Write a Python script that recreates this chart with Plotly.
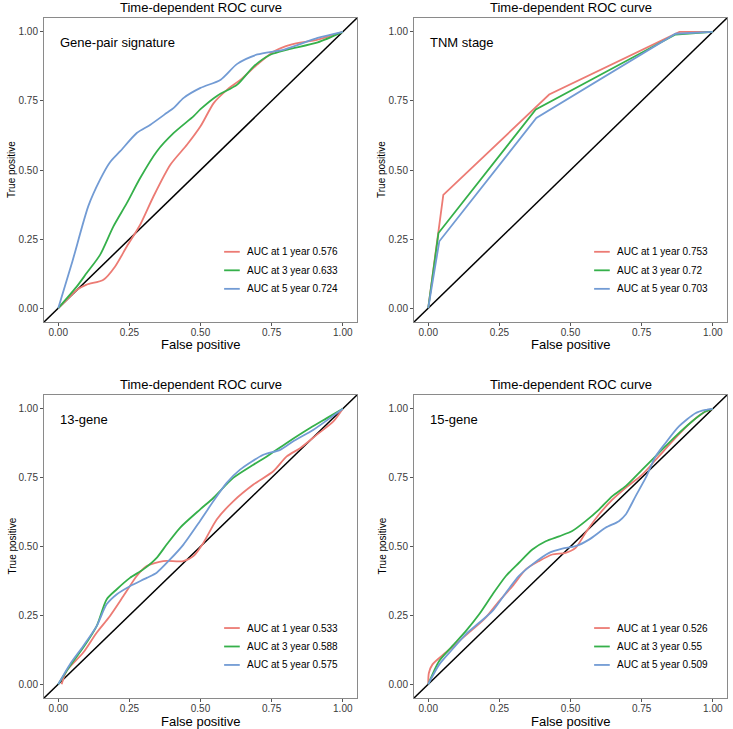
import plotly.graph_objects as go

# ---------------- data ----------------
tick_vals = [0, 0.25, 0.5, 0.75, 1.0]
tick_text = ["0.00", "0.25", "0.50", "0.75", "1.00"]
panel_titles = ["Time-dependent ROC curve"] * 4
panel_labels = ["Gene-pair signature", "TNM stage", "13-gene", "15-gene"]
series_names = ["1 year", "3 year", "5 year"]

auc_gp = [0.576, 0.633, 0.724]
auc_tnm = [0.753, 0.72, 0.703]
auc_13 = [0.533, 0.588, 0.575]
auc_15 = [0.526, 0.55, 0.509]

# Gene-pair signature
gp1_x = [0, 0.03, 0.065, 0.1, 0.159, 0.2, 0.241, 0.288, 0.335, 0.394, 0.453, 0.5, 0.547, 0.594, 0.641, 0.7, 0.759, 0.818, 0.912, 1.0]
gp1_y = [0, 0.03, 0.066, 0.085, 0.103, 0.151, 0.223, 0.302, 0.405, 0.519, 0.592, 0.658, 0.743, 0.791, 0.827, 0.882, 0.93, 0.954, 0.972, 1.0]
gp3_x = [0, 0.065, 0.1, 0.147, 0.194, 0.241, 0.288, 0.347, 0.406, 0.476, 0.5, 0.559, 0.629, 0.688, 0.747, 0.806, 0.912, 1.0]
gp3_y = [0, 0.078, 0.127, 0.193, 0.296, 0.38, 0.471, 0.568, 0.634, 0.695, 0.72, 0.769, 0.809, 0.876, 0.918, 0.936, 0.962, 1.0]
gp5_x = [0, 0.05, 0.106, 0.147, 0.182, 0.218, 0.276, 0.324, 0.382, 0.406, 0.441, 0.5, 0.571, 0.629, 0.7, 0.794, 0.912, 1.0]
gp5_y = [0, 0.17, 0.37, 0.465, 0.528, 0.568, 0.634, 0.664, 0.707, 0.725, 0.761, 0.797, 0.827, 0.884, 0.918, 0.936, 0.978, 1.0]

# TNM stage
tnm1_x = [0, 0.053, 0.425, 0.883, 1.0]
tnm1_y = [0, 0.41, 0.773, 1.0, 1.0]
tnm3_x = [0, 0.036, 0.378, 0.869, 1.0]
tnm3_y = [0, 0.272, 0.719, 0.99, 1.0]
tnm5_x = [0, 0.039, 0.38, 0.869, 1.0]
tnm5_y = [0, 0.242, 0.688, 0.993, 1.0]

# 13-gene
g13_1_x = [0.012, 0.029, 0.088, 0.135, 0.182, 0.229, 0.276, 0.311, 0.369, 0.44, 0.475, 0.51, 0.557, 0.615, 0.686, 0.756, 0.803, 0.85, 0.909, 0.967, 1.0]
g13_1_y = [0, 0.048, 0.115, 0.187, 0.248, 0.32, 0.393, 0.429, 0.447, 0.447, 0.465, 0.513, 0.598, 0.664, 0.725, 0.773, 0.827, 0.857, 0.906, 0.954, 1.0]
g13_3_x = [0, 0.041, 0.088, 0.135, 0.17, 0.205, 0.252, 0.299, 0.346, 0.381, 0.428, 0.498, 0.545, 0.615, 0.686, 0.733, 0.803, 0.885, 0.944, 1.0]
g13_3_y = [0, 0.066, 0.133, 0.211, 0.308, 0.344, 0.386, 0.417, 0.459, 0.507, 0.568, 0.634, 0.676, 0.749, 0.797, 0.827, 0.876, 0.93, 0.966, 1.0]
g13_5_x = [0, 0.041, 0.088, 0.135, 0.17, 0.205, 0.252, 0.311, 0.346, 0.393, 0.44, 0.498, 0.545, 0.592, 0.639, 0.721, 0.78, 0.826, 0.897, 0.955, 1.0]
g13_5_y = [0, 0.072, 0.139, 0.211, 0.29, 0.326, 0.356, 0.386, 0.405, 0.453, 0.507, 0.592, 0.664, 0.731, 0.779, 0.833, 0.851, 0.882, 0.924, 0.966, 1.0]

# 15-gene
g15_1_x = [0, 0.002, 0.015, 0.062, 0.109, 0.156, 0.202, 0.249, 0.296, 0.343, 0.389, 0.436, 0.483, 0.518, 0.553, 0.6, 0.647, 0.694, 0.752, 0.81, 0.869, 0.927, 0.974, 1.0]
g15_1_y = [0, 0.04, 0.072, 0.115, 0.157, 0.199, 0.242, 0.302, 0.356, 0.417, 0.447, 0.471, 0.477, 0.495, 0.55, 0.616, 0.67, 0.713, 0.761, 0.827, 0.894, 0.954, 0.99, 1.0]
g15_3_x = [0, 0.039, 0.085, 0.132, 0.179, 0.226, 0.273, 0.319, 0.366, 0.413, 0.46, 0.506, 0.553, 0.6, 0.647, 0.694, 0.752, 0.81, 0.869, 0.927, 0.974, 1.0]
g15_3_y = [0, 0.085, 0.139, 0.193, 0.254, 0.326, 0.393, 0.441, 0.489, 0.519, 0.537, 0.556, 0.592, 0.634, 0.683, 0.719, 0.779, 0.839, 0.9, 0.954, 0.99, 1.0]
g15_5_x = [0, 0.039, 0.085, 0.132, 0.179, 0.226, 0.273, 0.319, 0.366, 0.425, 0.471, 0.518, 0.565, 0.623, 0.67, 0.694, 0.729, 0.764, 0.799, 0.834, 0.881, 0.939, 0.974, 1.0]
g15_5_y = [0, 0.072, 0.127, 0.181, 0.223, 0.266, 0.332, 0.393, 0.435, 0.477, 0.492, 0.501, 0.525, 0.568, 0.592, 0.616, 0.683, 0.749, 0.827, 0.876, 0.936, 0.984, 0.996, 1.0]

diag_x = [-0.05, 1.05]
diag_y = [-0.05, 1.05]

# ---------------- styling ----------------
colors = ["#EC7B74", "#35B04A", "#729BD4"]
FONT = "Liberation Sans, Arial, sans-serif"
W, H = 733, 729
border = "#8a8a8a"

panels = [
    dict(series=[(gp1_x, gp1_y), (gp3_x, gp3_y), (gp5_x, gp5_y)], auc=auc_gp, shape="spline"),
    dict(series=[(tnm1_x, tnm1_y), (tnm3_x, tnm3_y), (tnm5_x, tnm5_y)], auc=auc_tnm, shape="linear"),
    dict(series=[(g13_1_x, g13_1_y), (g13_3_x, g13_3_y), (g13_5_x, g13_5_y)], auc=auc_13, shape="spline"),
    dict(series=[(g15_1_x, g15_1_y), (g15_3_x, g15_3_y), (g15_5_x, g15_5_y)], auc=auc_15, shape="spline"),
]

# pixel geometry of plotting panels (left, right, top, bottom)
boxes = [(44, 357, 18, 322), (414, 727, 18, 322), (44, 357, 395, 698), (414, 727, 395, 698)]

fig = go.Figure()
layout = dict(
    width=W, height=H, margin=dict(l=0, r=0, t=0, b=0),
    paper_bgcolor="white", plot_bgcolor="white", showlegend=False,
    font=dict(family=FONT, color="#000000"),
)
annotations = []
shapes = []

for i, (p, box) in enumerate(zip(panels, boxes)):
    n = "" if i == 0 else str(i + 1)
    xa, ya = "x" + n, "y" + n
    l, r, t, b = box
    common = dict(
        range=[-0.05, 1.05], tickvals=tick_vals, ticktext=tick_text,
        ticks="outside", ticklen=3, tickwidth=1, tickcolor="#555555",
        showgrid=False, zeroline=False, showline=True, mirror=True,
        linecolor=border, linewidth=1,
        tickfont=dict(family=FONT, size=10, color="#3a3a3a"),
    )
    layout["xaxis" + n] = dict(common, domain=[l / W, r / W], anchor=ya, ticklabelstandoff=-2)
    layout["yaxis" + n] = dict(common, domain=[1 - b / H, 1 - t / H], anchor=xa)

    fig.add_trace(go.Scatter(x=diag_x, y=diag_y, mode="lines",
                             line=dict(color="black", width=1.5),
                             xaxis=xa, yaxis=ya, hoverinfo="skip"))
    for k, (sx, sy) in enumerate(p["series"]):
        fig.add_trace(go.Scatter(
            x=sx, y=sy, mode="lines", name="AUC at %s %s" % (series_names[k], p["auc"][k]),
            line=dict(color=colors[k], width=1.8, shape=p["shape"], smoothing=0.7),
            xaxis=xa, yaxis=ya))

    cx = (l + r) / 2 / W
    # title
    annotations.append(dict(text=panel_titles[i], x=cx, y=1 - (t - 11) / H,
                            xref="paper", yref="paper", showarrow=False,
                            xanchor="center", yanchor="middle",
                            font=dict(size=13, family=FONT, color="black")))
    # x-axis title
    annotations.append(dict(text="False positive", x=cx, y=1 - (b + 23) / H,
                            xref="paper", yref="paper", showarrow=False,
                            xanchor="center", yanchor="middle",
                            font=dict(size=13, family=FONT, color="black")))
    # y-axis title
    annotations.append(dict(text="True positive", x=(l - 32) / W, y=1 - (t + b) / 2 / H,
                            xref="paper", yref="paper", showarrow=False, textangle=-90,
                            xanchor="center", yanchor="middle",
                            font=dict(size=10, family=FONT, color="black")))
    # panel label
    annotations.append(dict(text=panel_labels[i], x=0.0, y=0.96, xref=xa, yref=ya,
                            showarrow=False, xanchor="left", yanchor="middle",
                            font=dict(size=13, family=FONT, color="black")))
    # legend
    rows = [0.204, 0.137, 0.070]
    for k in range(3):
        shapes.append(dict(type="line", xref=xa, yref=ya, x0=0.583, x1=0.638,
                           y0=rows[k], y1=rows[k],
                           line=dict(color=colors[k], width=1.8)))
        annotations.append(dict(text="AUC at %s %s" % (series_names[k], p["auc"][k]),
                                x=0.657, y=rows[k], xref=xa, yref=ya, showarrow=False,
                                xanchor="left", yanchor="middle",
                                font=dict(size=10, family=FONT, color="black")))

layout["annotations"] = annotations
layout["shapes"] = shapes
fig.update_layout(**layout)
fig.write_html("out.html", config={"displayModeBar": False},
               post_script="document.body.style.margin='0px';document.body.style.overflow='hidden';")
